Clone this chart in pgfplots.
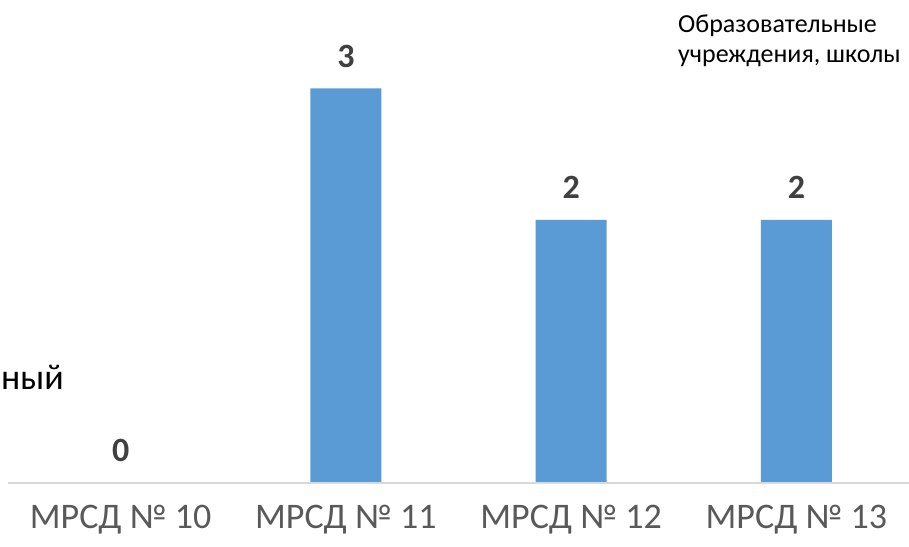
\documentclass[border=0pt]{standalone}
\usepackage{fontspec}
\setmainfont{Carlito}
\usepackage{pgfplots}
\pgfplotsset{compat=1.18}
\definecolor{barblue}{HTML}{5B9BD5}
\definecolor{axisgrey}{HTML}{D9D9D9}
\definecolor{ticktext}{HTML}{595959}
\definecolor{valtext}{HTML}{404040}
\begin{document}
\begin{tikzpicture}[x=1pt,y=1pt]
\useasboundingbox (0,0) rectangle (909,546);
\begin{axis}[
  at={(8pt,63pt)}, anchor=south west,
  scale only axis, width=901pt, height=483pt,
  xmin=-0.5, xmax=3.5, ymin=0, ymax=3.673,
  axis x line*=bottom, axis y line=none,
  axis on top,
  x axis line style={draw=axisgrey, line width=2pt},
  ybar, bar width=0.315,
  xtick={0,1,2,3},
  xticklabels={МРСД № 10, МРСД № 11, МРСД № 12, МРСД № 13},
  major tick length=0pt,
  ytick=\empty,
  /pgf/number format/assume math mode=true,
  xticklabel style={font=\fontsize{36}{40}\selectfont, text=ticktext, inner sep=0pt, anchor=base, yshift=-45pt},
  nodes near coords,
  nodes near coords style={font=\fontsize{34}{40}\selectfont\bfseries, text=valtext, anchor=south, inner sep=0pt, yshift=21pt},
  clip=false,
]
\addplot[fill=barblue, draw=none] coordinates {(0,0) (1,3) (2,2) (3,2)};
\end{axis}
\node[anchor=base west, inner sep=0pt, font=\fontsize{36}{40}\selectfont] at (1,156) {ный};
\node[anchor=base west, inner sep=0pt, align=left, font=\fontsize{26}{30}\selectfont] at (678,483) {Образовательные\\учреждения, школы};
\end{tikzpicture}
\end{document}
